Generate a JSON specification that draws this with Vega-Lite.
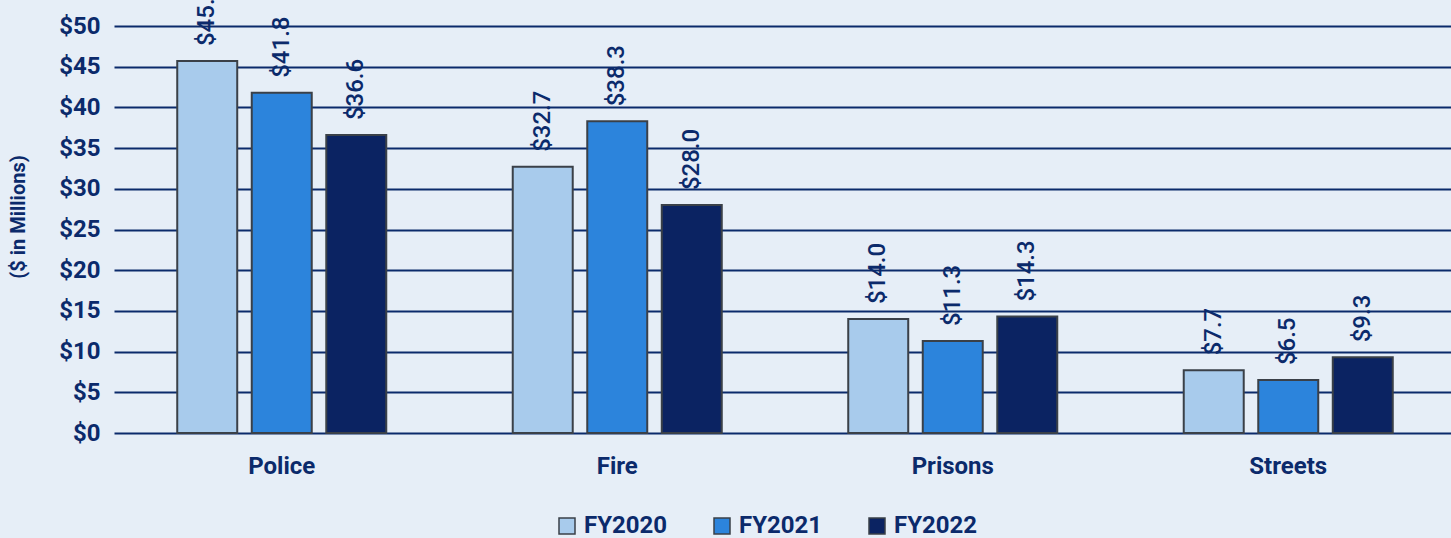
{
  "$schema": "https://vega.github.io/schema/vega-lite/v6.json",
  "autosize": {"type": "none"},
  "width": 1342,
  "height": 433,
  "padding": {"left": 114, "top": 0, "right": 0, "bottom": 105},
  "background": "#e6eef7",
  "config": {
    "view": {"stroke": null},
    "font": "Roboto",
    "axis": {"labelColor": "#0b2a6b", "titleColor": "#0b2a6b"}
  },
  "data": {
    "values": [
      {"category": "Police", "year": "FY2020", "value": 45.7},
      {"category": "Police", "year": "FY2021", "value": 41.8},
      {"category": "Police", "year": "FY2022", "value": 36.6},
      {"category": "Fire", "year": "FY2020", "value": 32.7},
      {"category": "Fire", "year": "FY2021", "value": 38.3},
      {"category": "Fire", "year": "FY2022", "value": 28.0},
      {"category": "Prisons", "year": "FY2020", "value": 14.0},
      {"category": "Prisons", "year": "FY2021", "value": 11.3},
      {"category": "Prisons", "year": "FY2022", "value": 14.3},
      {"category": "Streets", "year": "FY2020", "value": 7.7},
      {"category": "Streets", "year": "FY2021", "value": 6.5},
      {"category": "Streets", "year": "FY2022", "value": 9.3}
    ]
  },
  "encoding": {
    "x": {
      "field": "category",
      "type": "nominal",
      "sort": ["Police", "Fire", "Prisons", "Streets"],
      "scale": {"paddingInner": 0.377, "paddingOuter": 0.1885},
      "axis": {
        "title": null,
        "labelAngle": 0,
        "labelFontSize": 24,
        "labelFontWeight": "bold",
        "labelPadding": 21,
        "ticks": false,
        "domain": false,
        "grid": false
      }
    },
    "xOffset": {
      "field": "year",
      "type": "nominal",
      "scale": {"paddingInner": 0.195, "paddingOuter": 0}
    },
    "y": {
      "field": "value",
      "type": "quantitative",
      "scale": {"domain": [0, 53.2], "nice": false, "zero": true},
      "axis": {
        "title": "($ in Millions)",
        "titleFontSize": 20,
        "titleFontWeight": "bold",
        "titlePadding": 30,
        "values": [0, 5, 10, 15, 20, 25, 30, 35, 40, 45, 50],
        "format": "$.0f",
        "labelFontSize": 24,
        "labelFontWeight": "bold",
        "labelPadding": 14,
        "ticks": false,
        "domain": false,
        "grid": true,
        "gridColor": "#0b2a6b",
        "gridWidth": 2,
        "gridOpacity": 1
      }
    }
  },
  "layer": [
    {
      "mark": {"type": "bar", "stroke": "#3a4048", "strokeWidth": 2},
      "encoding": {
        "color": {
          "field": "year",
          "type": "nominal",
          "scale": {
            "domain": ["FY2020", "FY2021", "FY2022"],
            "range": ["#a8cbec", "#2c84dc", "#0b2362"]
          },
          "legend": {
            "title": null,
            "orient": "none",
            "legendX": 441,
            "legendY": 514,
            "direction": "horizontal",
            "symbolType": "square",
            "symbolSize": 256,
            "symbolStrokeColor": "#3a4048",
            "symbolStrokeWidth": 1.5,
            "labelFontSize": 24,
            "labelFontWeight": "bold",
            "labelColor": "#0b2a6b",
            "labelOffset": 5,
            "columnPadding": 42
          }
        }
      }
    },
    {
      "mark": {
        "type": "text",
        "angle": 270,
        "align": "left",
        "baseline": "middle",
        "dx": 15,
        "fontSize": 24,
        "fontWeight": 500,
        "color": "#0b2a6b",
        "clip": true
      },
      "encoding": {
        "text": {"field": "value", "type": "quantitative", "format": "$.1f"}
      }
    }
  ]
}
